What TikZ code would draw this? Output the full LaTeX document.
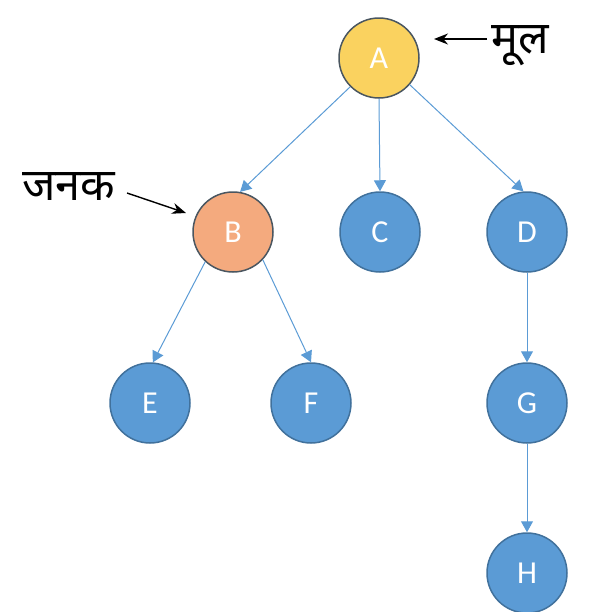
\documentclass[tikz,border=0pt]{standalone}
\usepackage{fontspec}
\setmainfont{Carlito}
\newfontfamily\deva[Script=Devanagari]{Noto Sans}
\usetikzlibrary{arrows.meta}
\definecolor{nblue}{HTML}{5B9BD5}
\definecolor{nblueb}{HTML}{41719C}
\definecolor{nyellow}{HTML}{FAD25F}
\definecolor{norange}{HTML}{F4AA7E}
\definecolor{ngrey}{HTML}{4A5660}
\tikzset{
  tnode/.style={circle, minimum size=80pt, inner sep=0pt, line width=1.5pt, font=\fontsize{32}{36}\selectfont, text=white},
  bluen/.style={tnode, fill=nblue, draw=nblueb},
  edge/.style={draw=nblue, line width=1pt, -{Triangle[length=11pt,width=12pt]}},
  lbl/.style={font=\deva\fontsize{45}{54}\selectfont, inner sep=0pt},
  pointer/.style={draw=black, line width=1.4pt, -{Stealth[length=14pt,width=11pt]}}
}
\begin{document}
\begin{tikzpicture}[x=1pt,y=-1pt]
\useasboundingbox (0,0) rectangle (613,611);
\node[tnode, fill=nyellow, draw=ngrey] (A) at (379,58) {A};
\node[tnode, fill=norange, draw=ngrey] (B) at (233,232) {B};
\node[bluen] (C) at (380,232) {C};
\node[bluen] (D) at (527,232) {D};
\node[bluen] (E) at (150,403) {E};
\node[bluen] (F) at (311,403) {F};
\node[bluen] (G) at (527,403) {G};
\node[bluen] (H) at (527,573) {H};
\draw[edge] (A.225) -- (B.80);
\draw[edge] (A.south) -- (C.north);
\draw[edge] (A.319) -- (D.95);
\draw[edge] (B.227) -- (E.86);
\draw[edge] (B.317) -- (F.90);
\draw[edge] (D.south) -- (G.north);
\draw[edge] (G.south) -- (H.north);
\node[lbl, anchor=base west] (root) at (491,53) {मूल};
\node[lbl, anchor=base west] (par) at (22,200) {जनक};
\coordinate (rootstart) at (487,39);
\coordinate (rootend) at (434,39);
\coordinate (parstart) at (127,193);
\coordinate (parend) at (186,213);
\draw[pointer] (rootstart) -- (rootend);
\draw[pointer] (parstart) -- (parend);
\end{tikzpicture}
\end{document}
